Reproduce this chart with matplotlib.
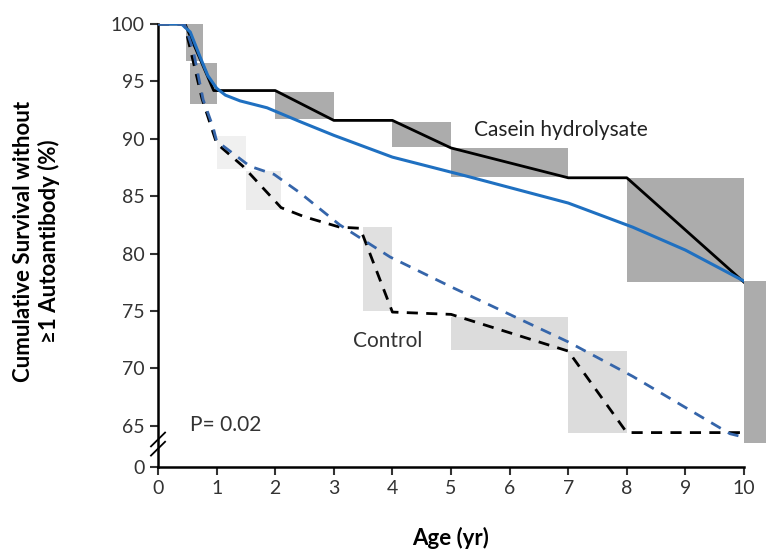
import matplotlib.pyplot as plt
from matplotlib.patches import Rectangle

# Kaplan-Meier style curves (age in years, % without autoantibody)
casein_x = [0, 0.46, 0.95, 2.0, 3.0, 4.0, 5.0, 7.0, 8.0, 10.0]
casein_y = [100, 100, 94.2, 94.2, 91.6, 91.6, 89.2, 86.6, 86.6, 77.5]

control_x = [0, 0.45, 0.75, 1.0, 1.45, 2.1, 2.5, 3.1, 3.45, 4.0, 5.0, 7.0, 8.0, 10.0]
control_y = [100, 100, 93.5, 89.6, 87.6, 84.0, 83.2, 82.3, 82.2, 74.9, 74.7, 71.5, 64.4, 64.4]

# fitted curves
casein_fit_x = [0, 0.4, 0.55, 0.72, 0.85, 1.0, 1.15, 1.4, 1.86, 2.42, 3.0, 4.0, 5.3, 7.0, 8.1, 9.0, 10.0]
casein_fit_y = [100, 100, 99.3, 97.1, 95.5, 94.4, 93.8, 93.3, 92.7, 91.5, 90.3, 88.4, 86.7, 84.4, 82.3, 80.3, 77.6]

control_fit_x = [0, 0.45, 0.6, 0.77, 0.94, 1.0, 1.57, 1.98, 2.42, 3.1, 3.96, 5.0, 7.0, 8.1, 9.76, 10.0]
control_fit_y = [100, 100, 97.7, 93.4, 91.0, 89.8, 87.6, 86.9, 85.3, 82.5, 79.7, 77.1, 72.3, 69.3, 64.3, 64.0]

# shaded step boxes: (x start, x end, y low, y high)
casein_boxes = [(0.47, 0.77, 96.8, 100), (0.55, 1.0, 93.0, 96.6), (2.0, 3.0, 91.7, 94.1),
                (4.0, 5.0, 89.3, 91.5), (5.0, 7.0, 86.7, 89.2), (8.0, 10.0, 77.5, 86.6),
                (10.0, 10.38, 63.5, 77.6)]
control_boxes = [(1.0, 1.5, 87.4, 90.2), (1.5, 2.1, 83.8, 87.2), (3.5, 4.0, 75.0, 82.3),
                 (5.0, 7.0, 71.6, 74.5), (7.0, 8.0, 64.4, 71.5)]
control_shade = ["#f0f0f0", "#ececec", "#e0e0e0", "#dcdcdc", "#dcdcdc"]

y_ticks = [65, 70, 75, 80, 85, 90, 95, 100]
x_ticks = list(range(0, 11))
zero_pos = 61.4  # where the broken axis puts "0"

plt.rcParams['font.family'] = ['Lato', 'DejaVu Sans']

fig = plt.figure(figsize=(7.66, 5.54), dpi=100)
ax = fig.add_axes([0.2063, 0.157, 0.765, 0.7997])

for x0, x1, lo, hi in casein_boxes:
    ax.add_patch(Rectangle((x0, lo), x1 - x0, hi - lo, facecolor="#acacac",
                           edgecolor="none", zorder=1, clip_on=False))
for (x0, x1, lo, hi), c in zip(control_boxes, control_shade):
    ax.add_patch(Rectangle((x0, lo), x1 - x0, hi - lo, facecolor=c,
                           edgecolor="none", zorder=1, clip_on=False))

ax.plot(casein_x, casein_y, color="black", lw=2, zorder=3)
ax.plot(control_x, control_y, color="black", lw=2, ls=(0, (4, 3)), zorder=3)
ax.plot(casein_fit_x, casein_fit_y, color="#1f70c1", lw=2.2, zorder=4)
ax.plot(control_fit_x, control_fit_y, color="#3565aa", lw=2, ls=(0, (4, 3)), zorder=4)

ax.text(5.4, 90.8, "Casein hydrolysate", fontsize=15, va="center", color="#222222")
ax.text(3.32, 72.4, "Control", fontsize=15, va="center", color="#333333")
ax.text(0.55, 65.1, "P= 0.02", fontsize=15, va="center", color="#333333")

ax.set_xlim(0, 10)
ax.set_ylim(zero_pos, 100)
ax.set_xticks(x_ticks)
ax.set_yticks([zero_pos] + y_ticks)
ax.set_yticklabels(["0"] + [str(t) for t in y_ticks])
ax.tick_params(labelsize=14, length=6, width=1.5, colors="#333333")
for s in ["top", "right"]:
    ax.spines[s].set_visible(False)
for s in ["left", "bottom"]:
    ax.spines[s].set_linewidth(1.8)

# axis break marks
for yb in [63.0, 63.8]:
    ax.plot([-0.12, 0.12], [yb - 0.6, yb + 0.6], color="black", lw=1.3, clip_on=False, zorder=5)

ax.set_xlabel("Age (yr)", fontsize=16, fontweight="bold")
ax.set_ylabel("Cumulative Survival without\n\u22651 Autoantibody (%)", fontsize=16,
              fontweight="bold")
ax.xaxis.set_label_coords(0.5, -0.135)
ax.yaxis.set_label_coords(-0.168, 0.51)

fig.savefig("out.png", dpi=100)
